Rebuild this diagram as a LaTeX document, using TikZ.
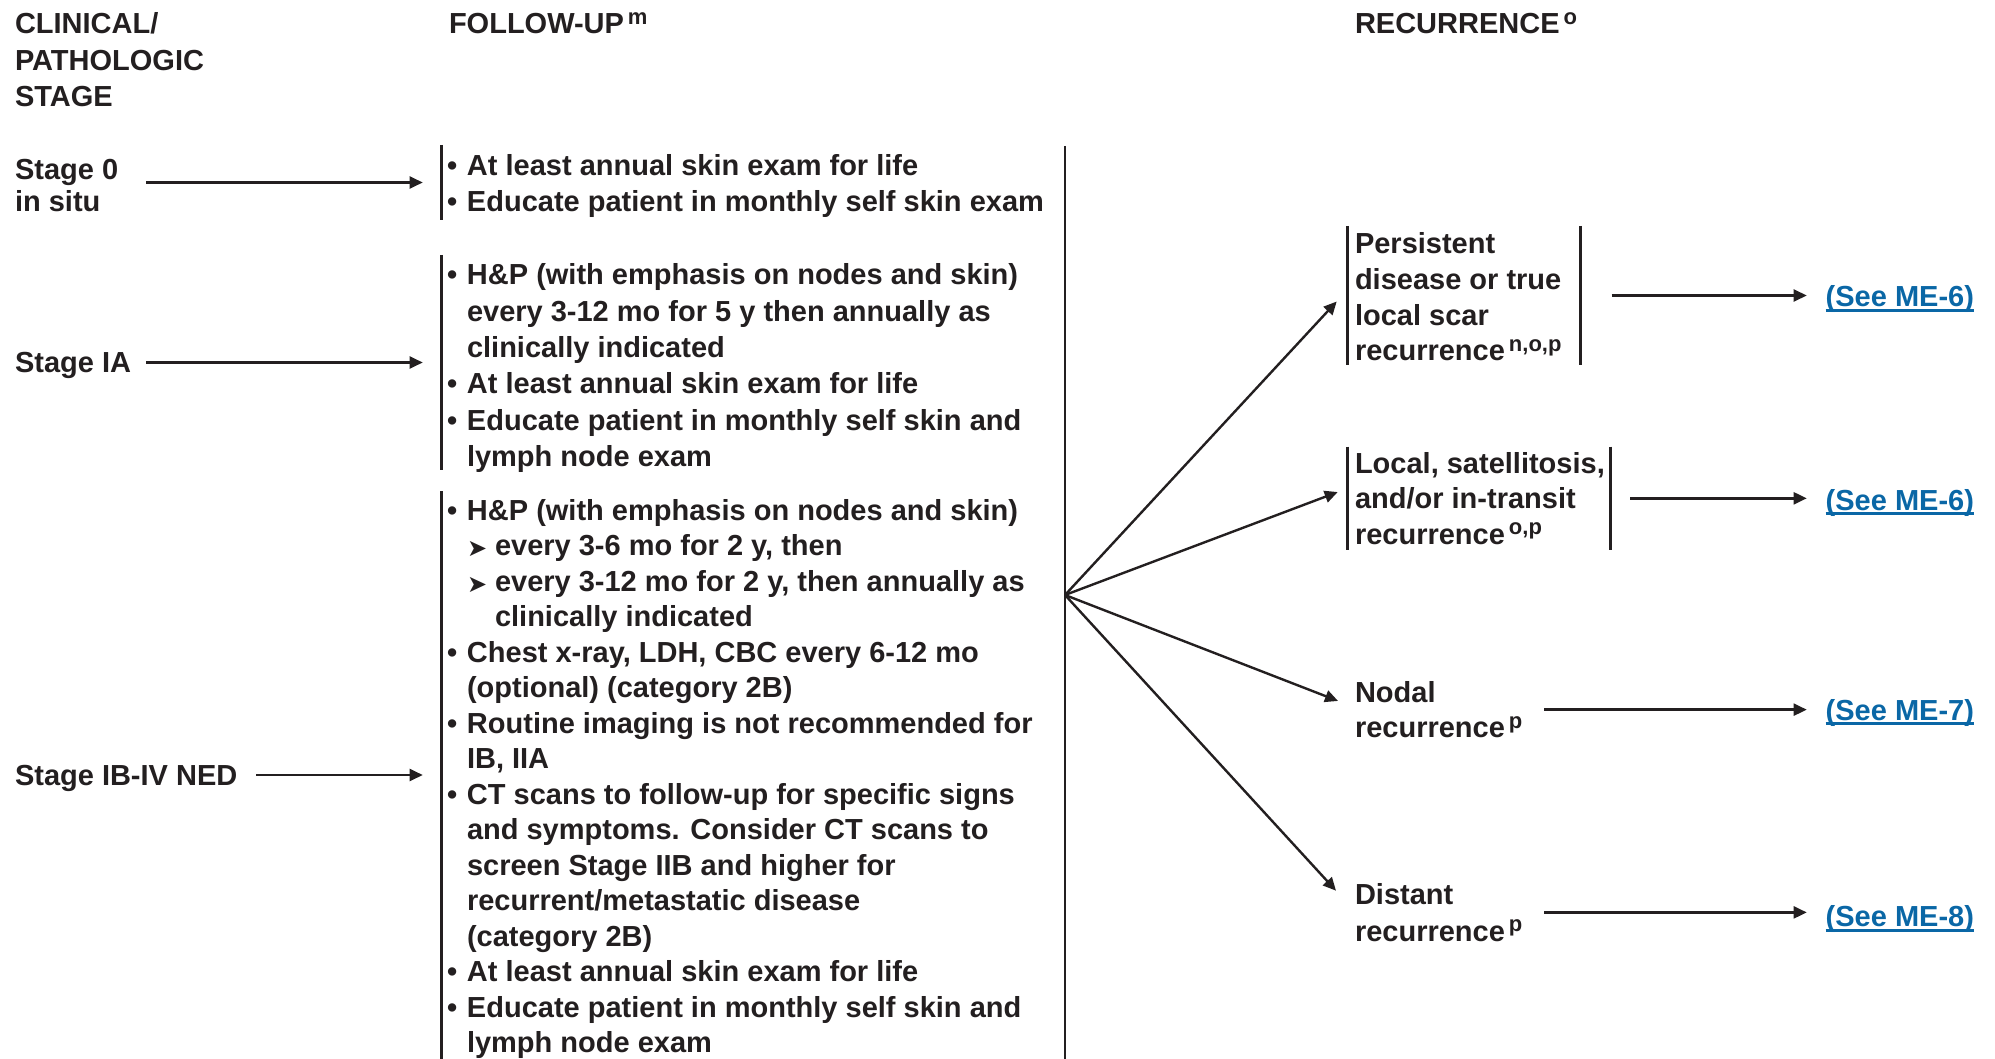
\documentclass[tikz,border=0pt]{standalone}
\usepackage{fontspec}
\setmainfont{Liberation Sans}
\newfontfamily\djv{DejaVu Sans}
\usetikzlibrary{arrows.meta,calc}
\definecolor{ink}{HTML}{231F20}
\definecolor{linkblue}{HTML}{0A67A6}
\newcommand\Lns[2]{\vtop{\baselineskip=#1\lineskiplimit=-1000pt\lineskip=0pt\relax #2}}
\newcommand\Ln[1]{\hbox{#1}}
\newcommand\bul{\makebox[20pt][l]{•}}
\newcommand\ind{\hskip20pt}
\newcommand\subb{\hskip20pt\makebox[28pt][l]{\raisebox{-1pt}{\djv\fontsize{24}{24}\selectfont ➤}}}
\newcommand\subind{\hskip48pt}
\newcommand\sps[1]{\hskip4pt\raisebox{9.5pt}{\fontsize{22}{22}\selectfont #1}}
\newcommand\lnk[1]{\setbox0=\hbox{#1}\rlap{\rule[-5pt]{\wd0}{2.6pt}}\box0}
\begin{document}
\begin{tikzpicture}[x=1pt,y=-1pt,
  every node/.style={inner sep=0pt,outer sep=0pt,font=\fontsize{29}{35}\selectfont\bfseries,text=ink},
  txt/.style={anchor=base west},
  bracket/.style={anchor=north west,draw=none},
  brk/.style={draw=ink,line width=2.6pt},
  arr/.style={draw=ink,line width=2.4pt,-{Triangle[length=13pt,width=12pt]}},
  linktxt/.style={anchor=base west,text=linkblue}]
\useasboundingbox (0,0) rectangle (1995,1059);

% headers
\node[txt] (hclin) at (15,34) {\Lns{36.5pt}{\Ln{CLINICAL/}\Ln{PATHOLOGIC}\Ln{STAGE}}};
\node[txt] (hfu) at (449,34) {FOLLOW-UP\sps{m}};
\node[txt] (hrec) at (1355,34) {RECURRENCE\sps{o}};

% stages
\node[txt] (s0) at (15,180) {\Lns{31.5pt}{\Ln{Stage 0}\Ln{in situ}}};
\node[txt] (sIA) at (15,372) {Stage IA};
\node[txt] (sIB) at (15,785) {Stage IB-IV NED};

% follow-up brackets
\node[bracket,minimum width=620pt,minimum height=75pt] (b1) at (441.7,145) {};
\node[bracket,minimum width=620pt,minimum height=215pt] (b2) at (441.7,255) {};
\node[bracket,minimum width=620pt,minimum height=568pt] (b3) at (441.7,491) {};
\draw[brk] (b1.north west) -- (b1.south west);
\draw[brk] (b2.north west) -- (b2.south west);
\draw[brk] (b3.north west) -- (b3.south west);

% follow-up texts
\node[txt] (t1) at (447,176) {\Lns{36pt}{%
  \Ln{\bul At least annual skin exam for life}%
  \Ln{\bul Educate patient in monthly self skin exam}}};
\node[txt] (t2) at (447,285) {\Lns{36.3pt}{%
  \Ln{\bul H\&P (with emphasis on nodes and skin)}%
  \Ln{\ind every 3-12 mo for 5 y then annually as}%
  \Ln{\ind clinically indicated}%
  \Ln{\bul At least annual skin exam for life}%
  \Ln{\bul Educate patient in monthly self skin and}%
  \Ln{\ind lymph node exam}}};
\node[txt] (t3) at (447,520) {\Lns{35.5pt}{%
  \Ln{\bul H\&P (with emphasis on nodes and skin)}%
  \Ln{\subb every 3-6 mo for 2 y, then}%
  \Ln{\subb every 3-12 mo for 2 y, then annually as}%
  \Ln{\subind clinically indicated}%
  \Ln{\bul Chest x-ray, LDH, CBC every 6-12 mo}%
  \Ln{\ind (optional) (category 2B)}%
  \Ln{\bul Routine imaging is not recommended for}%
  \Ln{\ind IB, IIA}%
  \Ln{\bul CT scans to follow-up for specific signs}%
  \Ln{\ind and symptoms. Consider CT scans to}%
  \Ln{\ind screen Stage IIB and higher for}%
  \Ln{\ind recurrent/metastatic disease}%
  \Ln{\ind (category 2B)}%
  \Ln{\bul At least annual skin exam for life}%
  \Ln{\bul Educate patient in monthly self skin and}%
  \Ln{\ind lymph node exam}}};

% big right border of follow-up column
\coordinate (futop) at (1065,146);
\coordinate (fubot) at (1065,1059);
\coordinate (fan) at (1065,595);
\draw[brk] (futop) -- (fubot);

% recurrence boxes
\node[bracket,minimum width=233.4pt,minimum height=139pt] (rp) at (1347.3,226) {};
\node[bracket,minimum width=263.4pt,minimum height=103.3pt] (rl) at (1347.3,446.7) {};
\draw[brk] (rp.north west) -- (rp.south west);
\draw[brk] (rp.north east) -- (rp.south east);
\draw[brk] (rl.north west) -- (rl.south west);
\draw[brk] (rl.north east) -- (rl.south east);

\node[txt] (rpt) at (1355,254) {\Lns{35.6pt}{\Ln{Persistent}\Ln{disease or true}\Ln{local scar}\Ln{recurrence\sps{n,o,p}}}};
\node[txt] (rlt) at (1355,473) {\Lns{35.6pt}{\Ln{Local, satellitosis,}\Ln{and/or in-transit}\Ln{recurrence\sps{o,p}}}};
\node[txt] (rn) at (1355,702.5) {\Lns{35pt}{\Ln{Nodal}\Ln{recurrence\sps{p}}}};
\node[txt] (rd) at (1355,904.5) {\Lns{36.5pt}{\Ln{Distant}\Ln{recurrence\sps{p}}}};

% links
\node[linktxt] (l1) at (1825.7,306.7) {\lnk{(See ME-6)}};
\node[linktxt] (l2) at (1825.7,510) {\lnk{(See ME-6)}};
\node[linktxt] (l3) at (1825.7,720) {\lnk{(See ME-7)}};
\node[linktxt] (l4) at (1825.7,926.7) {\lnk{(See ME-8)}};

% stage arrows
\draw[arr,shorten <=28pt,shorten >=19pt] (b1.west -| s0.east) -- (b1.west);
\draw[arr,shorten <=15pt,shorten >=19pt] (b2.west -| sIA.east) -- (b2.west);
\draw[arr,shorten <=19pt,shorten >=19pt] (b3.west -| sIB.east) -- (b3.west);

% fan arrows
\draw[arr] (fan) -- ([xshift=-10.6pt,yshift=-6pt]rp.west);
\draw[arr] (fan) -- ([xshift=-9.6pt,yshift=6.3pt]rl.west);
\draw[arr] (fan) -- ([xshift=-17pt,yshift=8.7pt]rn.west);
\draw[arr] (fan) -- ([xshift=-19pt,yshift=21.7pt]rd.west);

% arrows to links
\draw[arr,shorten <=31pt,shorten >=19pt] (rp.east) -- (rp.east -| l1.west);
\draw[arr,shorten <=19.3pt,shorten >=19pt] (rl.east) -- (rl.east -| l2.west);
\draw[arr,shorten <=22pt,shorten >=19pt] (rn.east) -- (rn.east -| l3.west);
\draw[arr,shorten <=22pt,shorten >=19pt] (rd.east) -- (rd.east -| l4.west);
\end{tikzpicture}
\end{document}
